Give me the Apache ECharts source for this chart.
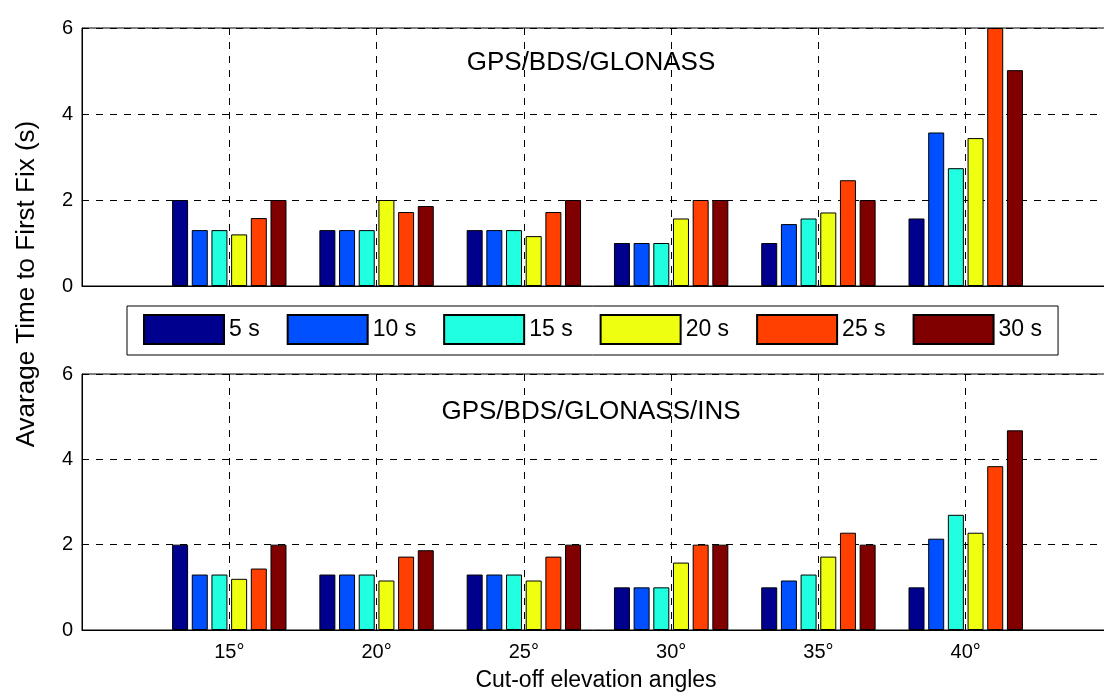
<!DOCTYPE html>
<html>
<head>
<meta charset="utf-8">
<script src="https://cdn.jsdelivr.net/npm/echarts@6/dist/echarts.min.js"></script>
<style>
  html, body { margin: 0; padding: 0; background: #fff; }
  #chart { width: 1104px; height: 697px; }
</style>
</head>
<body>
<div id="chart"></div>
<script>
// Cut-off elevation angles (x positions) and their tick labels
const angles = [15, 20, 25, 30, 35, 40];
const angleLabels = ['15°', '20°', '25°', '30°', '35°', '40°'];

// Sampling intervals (legend entries) and their colours
const intervalNames = ['5 s', '10 s', '15 s', '20 s', '25 s', '30 s'];
const intervalColors = ['#00008F', '#0050FF', '#20FFDF', '#EFFF10', '#FF4000', '#800000'];

// Y tick values
const yTicks = [0, 2, 4, 6];

// Average time to first fix (s), GPS/BDS/GLONASS
const gnss5s  = [2.0, 1.3, 1.3, 1.0, 1.0, 1.57];
const gnss10s = [1.3, 1.3, 1.3, 1.0, 1.44, 3.57];
const gnss15s = [1.3, 1.3, 1.3, 1.0, 1.57, 2.74];
const gnss20s = [1.2, 2.0, 1.16, 1.57, 1.71, 3.44];
const gnss25s = [1.58, 1.72, 1.72, 2.0, 2.46, 6.0];
const gnss30s = [2.0, 1.86, 2.0, 2.0, 2.0, 5.02];

// Average time to first fix (s), GPS/BDS/GLONASS/INS
const ins5s  = [2.0, 1.3, 1.3, 1.0, 1.0, 1.0];
const ins10s = [1.3, 1.3, 1.3, 1.0, 1.16, 2.14];
const ins15s = [1.3, 1.3, 1.3, 1.0, 1.3, 2.70];
const ins20s = [1.2, 1.16, 1.16, 1.58, 1.72, 2.28];
const ins25s = [1.44, 1.72, 1.72, 2.0, 2.28, 3.84];
const ins30s = [2.0, 1.87, 2.0, 2.0, 2.0, 4.68];

const gnssSets = [gnss5s, gnss10s, gnss15s, gnss20s, gnss25s, gnss30s];
const insSets = [ins5s, ins10s, ins15s, ins20s, ins25s, ins30s];

const FONT = "'Liberation Sans', Arial, Helvetica, sans-serif";

const chart = echarts.init(document.getElementById('chart'), null, { renderer: 'canvas' });

function xAxisFor(gridIndex, showLabels) {
  return {
    type: 'value',
    gridIndex: gridIndex,
    min: 10,
    max: 45,
    interval: 5,
    axisLine: { show: true, onZero: false, lineStyle: { color: '#000', width: 1 } },
    axisTick: { show: true, inside: true, length: 6, lineStyle: { color: '#000' } },
    axisLabel: {
      show: showLabels,
      margin: 12,
      fontFamily: FONT,
      fontSize: 20,
      color: '#000',
      formatter: function (v) {
        const i = angles.indexOf(v);
        return i >= 0 ? angleLabels[i] : '';
      }
    },
    splitLine: { show: true, lineStyle: { color: '#000', width: 1, type: [7, 7] } }
  };
}

function yAxisFor(gridIndex) {
  return {
    type: 'value',
    gridIndex: gridIndex,
    min: yTicks[0],
    max: yTicks[yTicks.length - 1],
    interval: yTicks[1] - yTicks[0],
    axisLine: { show: true, lineStyle: { color: '#000', width: 1 } },
    axisTick: { show: true, inside: true, length: 6, lineStyle: { color: '#000' } },
    axisLabel: { margin: 9, fontFamily: FONT, fontSize: 20, color: '#000' },
    splitLine: { show: true, lineStyle: { color: '#000', width: 1, type: [7, 7] } }
  };
}

function barSeries(sets, axisIndex) {
  return sets.map(function (vals, k) {
    return {
      name: intervalNames[k],
      type: 'bar',
      xAxisIndex: axisIndex,
      yAxisIndex: axisIndex,
      barWidth: 16,
      barGap: '23%',
      itemStyle: { color: intervalColors[k], borderColor: '#000', borderWidth: 1 },
      emphasis: { disabled: true },
      data: angles.map(function (a, i) { return [a, vals[i]]; }),
      z: 3
    };
  });
}

// plot areas run past the right edge of the page, so only the left, top and bottom frame lines show
function gridBox(top, height) {
  return {
    left: 82, width: 1031, top: top, height: height,
    outerBoundsMode: 'none',
    containLabel: false,
    show: true, borderColor: '#000', borderWidth: 1, backgroundColor: 'transparent'
  };
}

const option = {
  animation: false,
  backgroundColor: '#fff',
  textStyle: { fontFamily: FONT },
  grid: [gridBox(28, 258), gridBox(374, 256)],
  xAxis: [xAxisFor(0, false), xAxisFor(1, true)],
  yAxis: [yAxisFor(0), yAxisFor(1)],
  legend: {
    data: intervalNames,
    left: 127,
    top: 306,
    orient: 'horizontal',
    icon: 'rect',
    itemWidth: 80,
    itemHeight: 29,
    itemGap: 27,
    padding: [8, 16, 10, 16],
    borderColor: '#000',
    borderWidth: 1,
    backgroundColor: '#fff',
    selectedMode: false,
    textStyle: { fontFamily: FONT, fontSize: 23, color: '#000' }
  },
  series: barSeries(gnssSets, 0).concat(barSeries(insSets, 1)),
  graphic: [
    {
      type: 'text', x: 591, y: 63,
      style: { text: 'GPS/BDS/GLONASS', font: '26px ' + FONT, fill: '#000', textAlign: 'center', textVerticalAlign: 'middle' },
      z: 10
    },
    {
      type: 'text', x: 591, y: 412,
      style: { text: 'GPS/BDS/GLONASS/INS', font: '26px ' + FONT, fill: '#000', textAlign: 'center', textVerticalAlign: 'middle' },
      z: 10
    },
    {
      type: 'text', x: 596, y: 681,
      style: { text: 'Cut-off elevation angles', font: '23px ' + FONT, fill: '#000', textAlign: 'center', textVerticalAlign: 'middle' },
      z: 10
    },
    {
      type: 'text', x: 27, y: 284, rotation: Math.PI / 2,
      style: { text: 'Avarage Time to First Fix (s)', font: '26px ' + FONT, fill: '#000', textAlign: 'center', textVerticalAlign: 'middle' },
      z: 10
    }
  ]
};

chart.setOption(option);
</script>
</body>
</html>
